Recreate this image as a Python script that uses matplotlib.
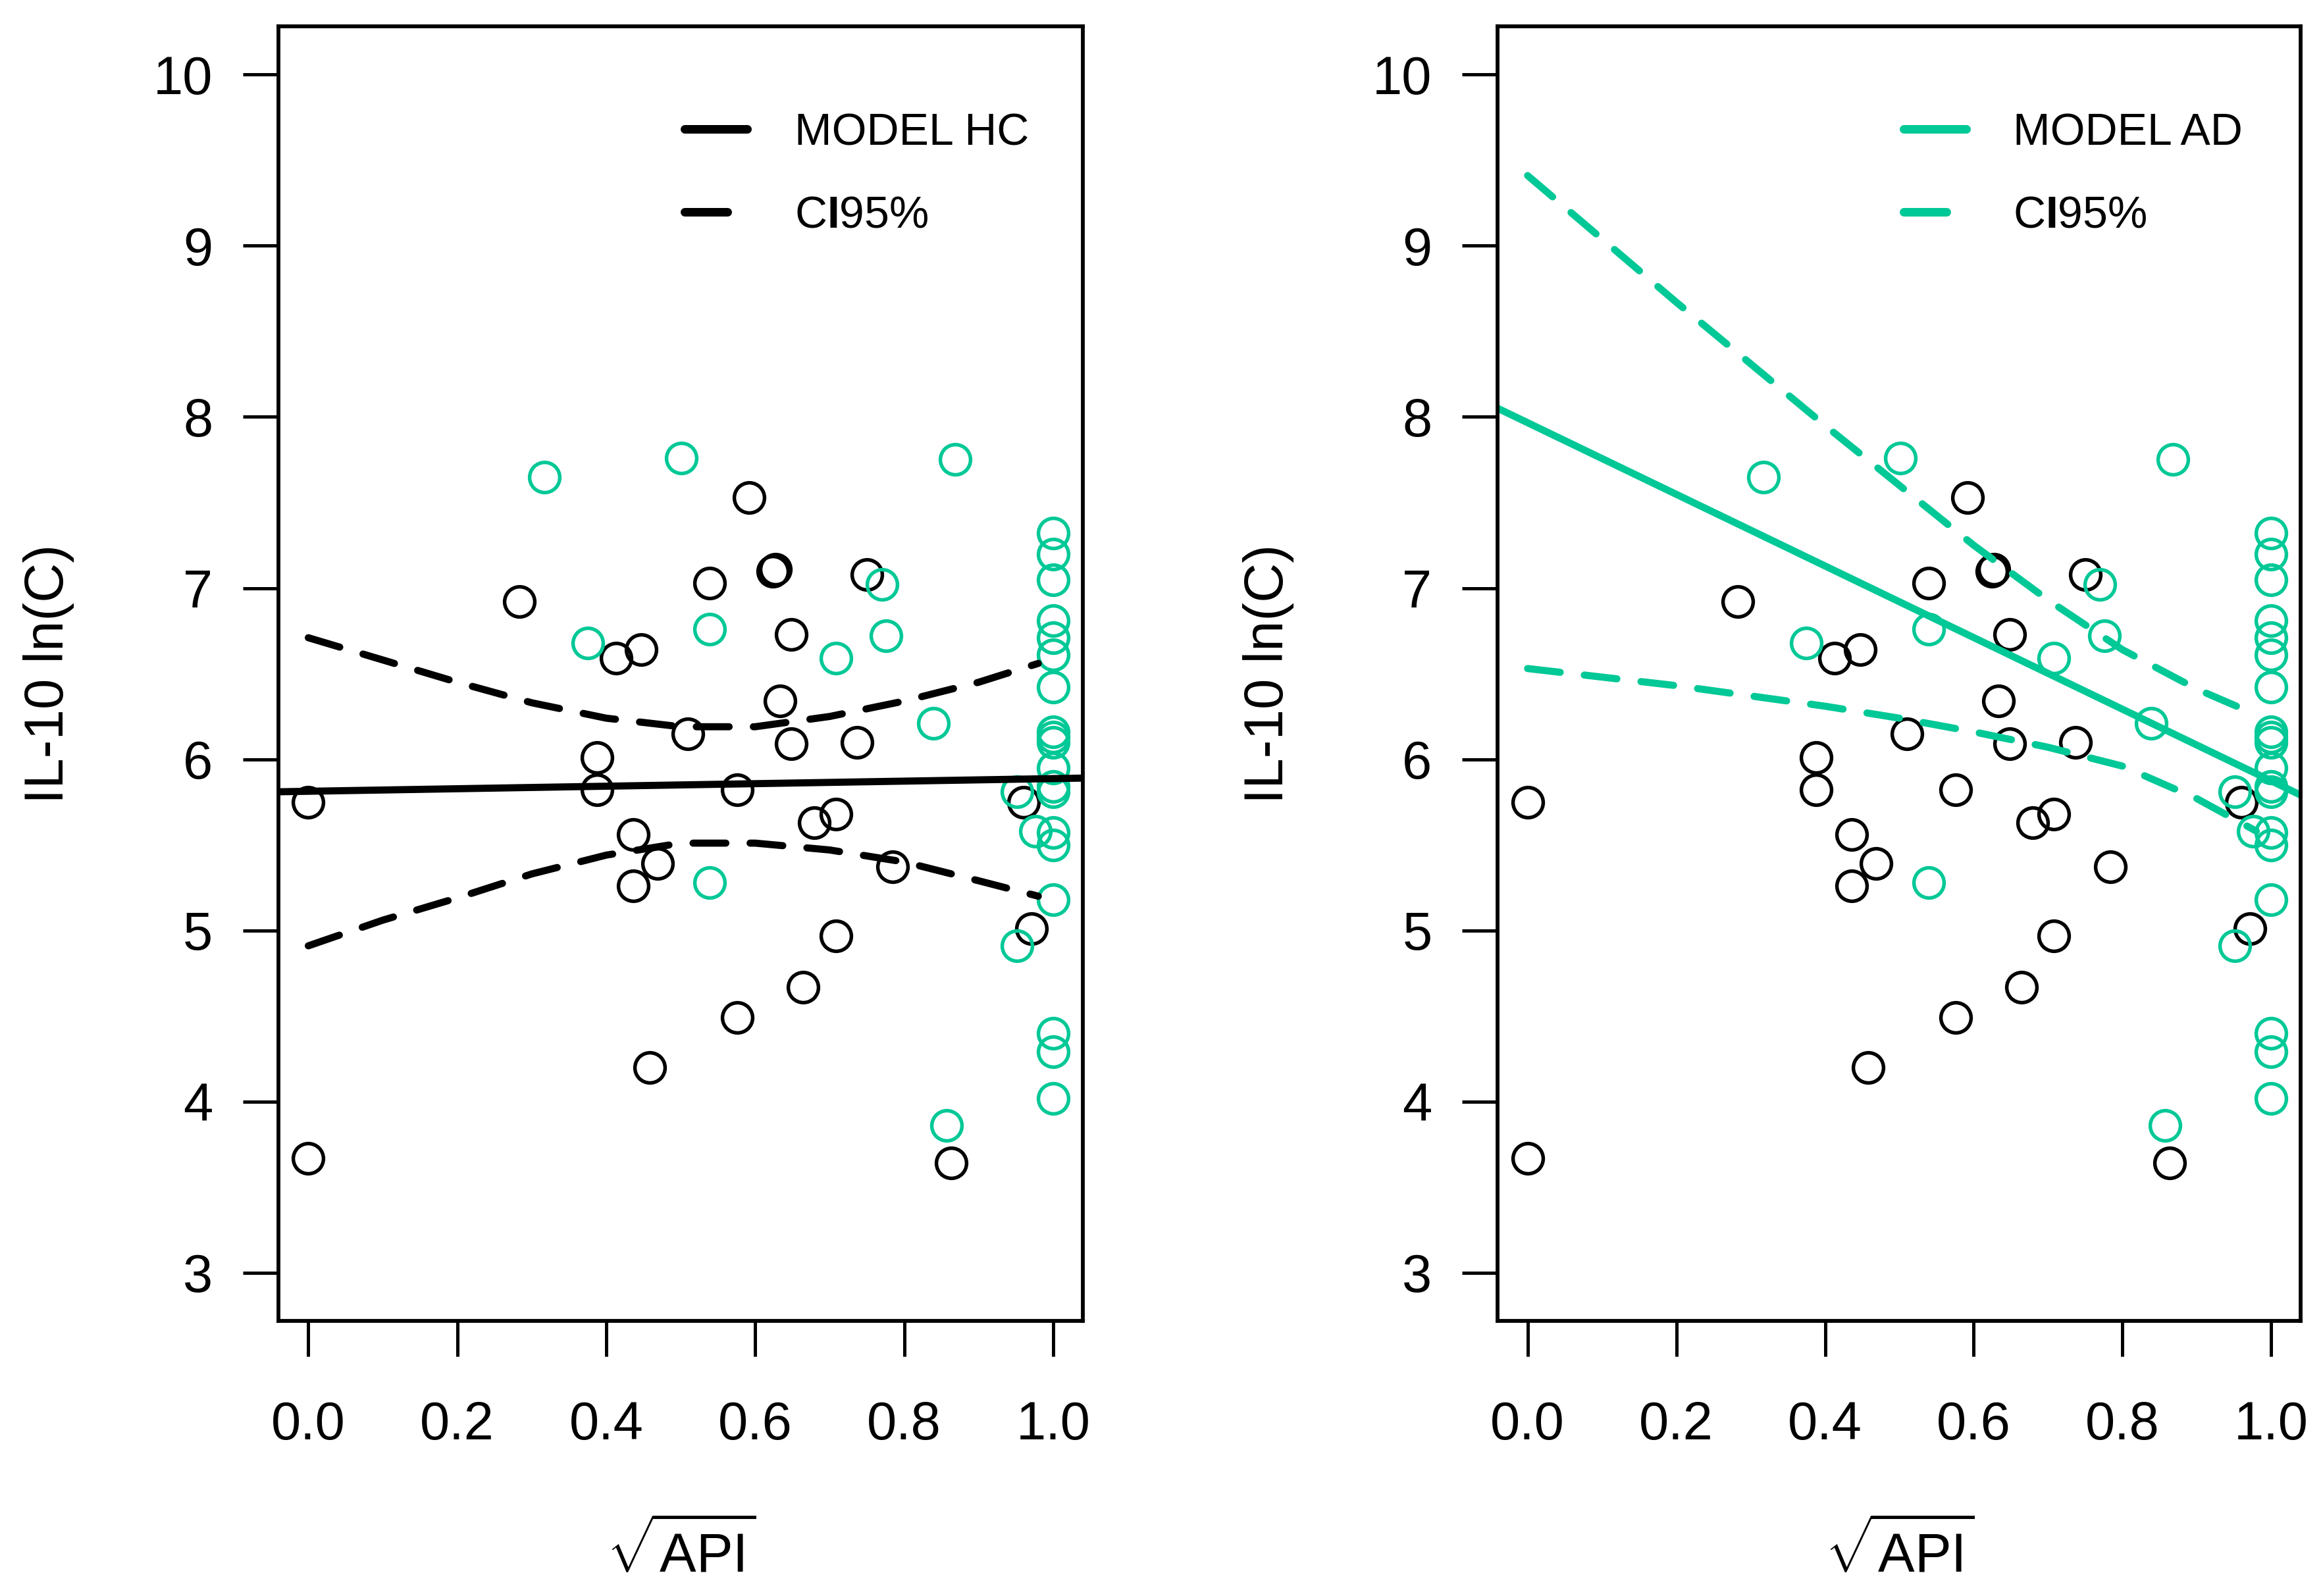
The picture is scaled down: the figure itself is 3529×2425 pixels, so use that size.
import matplotlib
matplotlib.use('Agg')
import matplotlib.pyplot as plt
from matplotlib.lines import Line2D

plt.rcParams['font.family'] = ['Liberation Sans', 'DejaVu Sans']
plt.rcParams['mathtext.fontset'] = 'custom'
plt.rcParams['mathtext.rm'] = 'Liberation Sans'
plt.rcParams['mathtext.bf'] = 'Liberation Sans:bold'

green = '#00C896'

# HC group (black circles)
hc_api = [0.0, 0.0, 0.283, 0.388, 0.388, 0.413, 0.436, 0.436, 0.447, 0.458,
          0.469, 0.510, 0.539, 0.576, 0.576, 0.592, 0.624, 0.627, 0.633, 0.648,
          0.648, 0.664, 0.679, 0.708, 0.708, 0.737, 0.750, 0.784, 0.863, 0.960,
          0.971]
hc_il10 = [5.75, 3.67, 6.92, 6.01, 5.82, 6.59, 5.56, 5.26, 6.64, 4.20,
           5.39, 6.15, 7.03, 5.82, 4.49, 7.53, 7.10, 7.11, 6.34, 6.73,
           6.09, 4.67, 5.63, 5.68, 4.97, 6.10, 7.08, 5.37, 3.64, 5.75,
           5.01]

# AD group (green circles)
ad_api = [0.317, 0.501, 0.868, 0.375, 0.539, 0.539, 0.708, 0.770, 0.776, 0.839,
          0.857, 0.951, 0.951, 0.976,
          1.0, 1.0, 1.0, 1.0, 1.0, 1.0, 1.0, 1.0, 1.0, 1.0,
          1.0, 1.0, 1.0, 1.0, 1.0, 1.0, 1.0, 1.0, 1.0]
ad_il10 = [7.65, 7.76, 7.75, 6.68, 6.76, 5.28, 6.59, 7.02, 6.72, 6.21,
           3.86, 5.81, 4.91, 5.58,
           7.32, 7.20, 7.05, 6.81, 6.71, 6.61, 6.42, 6.16, 6.13, 6.10,
           5.95, 5.84, 5.81, 5.57, 5.50, 5.18, 4.40, 4.29, 4.02]

# fitted models (ends of the line across the plot)
fit_x = [-0.04, 1.04]
hc_fit = [5.81, 5.89]
ad_fit = [8.05, 5.79]

# 95% confidence bands
ci_x = [0.0, 0.1, 0.2, 0.3, 0.4, 0.5, 0.6, 0.7, 0.8, 0.9, 0.98]
hc_upper = [6.71, 6.58, 6.45, 6.33, 6.24, 6.19, 6.19, 6.25, 6.34, 6.45, 6.56]
hc_lower = [4.91, 5.06, 5.19, 5.33, 5.44, 5.51, 5.51, 5.47, 5.40, 5.29, 5.20]
ad_upper = [9.41, 9.04, 8.67, 8.31, 7.95, 7.60, 7.25, 6.93, 6.64, 6.41, 6.26]
ad_lower = [6.53, 6.48, 6.43, 6.37, 6.31, 6.24, 6.16, 6.07, 5.96, 5.77, 5.58]

xticks = [0.0, 0.2, 0.4, 0.6, 0.8, 1.0]
xticklabels = ['0.0', '0.2', '0.4', '0.6', '0.8', '1.0']
yticks = [3, 4, 5, 6, 7, 8, 9, 10]

lw = 2.6
dash = (0, (4.6, 3.4))

fig = plt.figure(figsize=(3529 / 300, 2425 / 300), dpi=300)
ax1 = fig.add_axes([0.1199, 0.1725, 0.3463, 0.8108])
ax2 = fig.add_axes([0.6448, 0.1725, 0.3457, 0.8108])

panels = [(ax1, 'black', hc_fit, hc_upper, hc_lower, 'MODEL HC'),
          (ax2, green, ad_fit, ad_upper, ad_lower, 'MODEL AD')]

for ax, col, fit, upper, lower, name in panels:
    ax.plot(hc_api, hc_il10, 'o', ms=11, mfc='none', mec='black', mew=1.3)
    ax.plot(ad_api, ad_il10, 'o', ms=11, mfc='none', mec=green, mew=1.3)
    ax.plot(fit_x, fit, color=col, lw=lw, solid_capstyle='round')
    ax.plot(ci_x, upper, color=col, lw=lw, linestyle=dash, dash_capstyle='round')
    ax.plot(ci_x, lower, color=col, lw=lw, linestyle=dash, dash_capstyle='round')

    ax.set_xlim(-0.04, 1.04)
    ax.set_ylim(2.72, 10.28)
    ax.set_xticks(xticks)
    ax.set_xticklabels(xticklabels)
    ax.set_yticks(yticks)
    ax.tick_params(axis='both', direction='out', length=13, width=1.2, labelsize=19.5)
    ax.tick_params(axis='x', pad=16)
    ax.tick_params(axis='y', pad=11)
    for sp in ax.spines.values():
        sp.set_linewidth(1.4)

    ax.set_ylabel('IL-10 ln(C)', fontsize=20)
    ax.yaxis.set_label_coords(-0.2855, 0.5)
    ax.yaxis.label.set_va('center')
    ax.set_xlabel(r'$\sqrt{\mathrm{API}}$', fontsize=20)
    ax.xaxis.set_label_coords(0.5, -0.1785)
    ax.xaxis.label.set_va('center')

    handles = [Line2D([], [], color=col, lw=lw * 1.2, solid_capstyle='round'),
               Line2D([], [], color=col, lw=lw * 1.2, linestyle=(0, (5.0, 7.0)),
                      dash_capstyle='round')]
    ax.legend(handles, [name, r'C$\mathbf{I}$95%'], loc='upper left',
              bbox_to_anchor=(0.505, 0.934), frameon=False, fontsize=16.3,
              handlelength=1.4, handletextpad=1.05, labelspacing=0.9,
              borderpad=0, borderaxespad=0)

fig.savefig('out.png', dpi=300)
